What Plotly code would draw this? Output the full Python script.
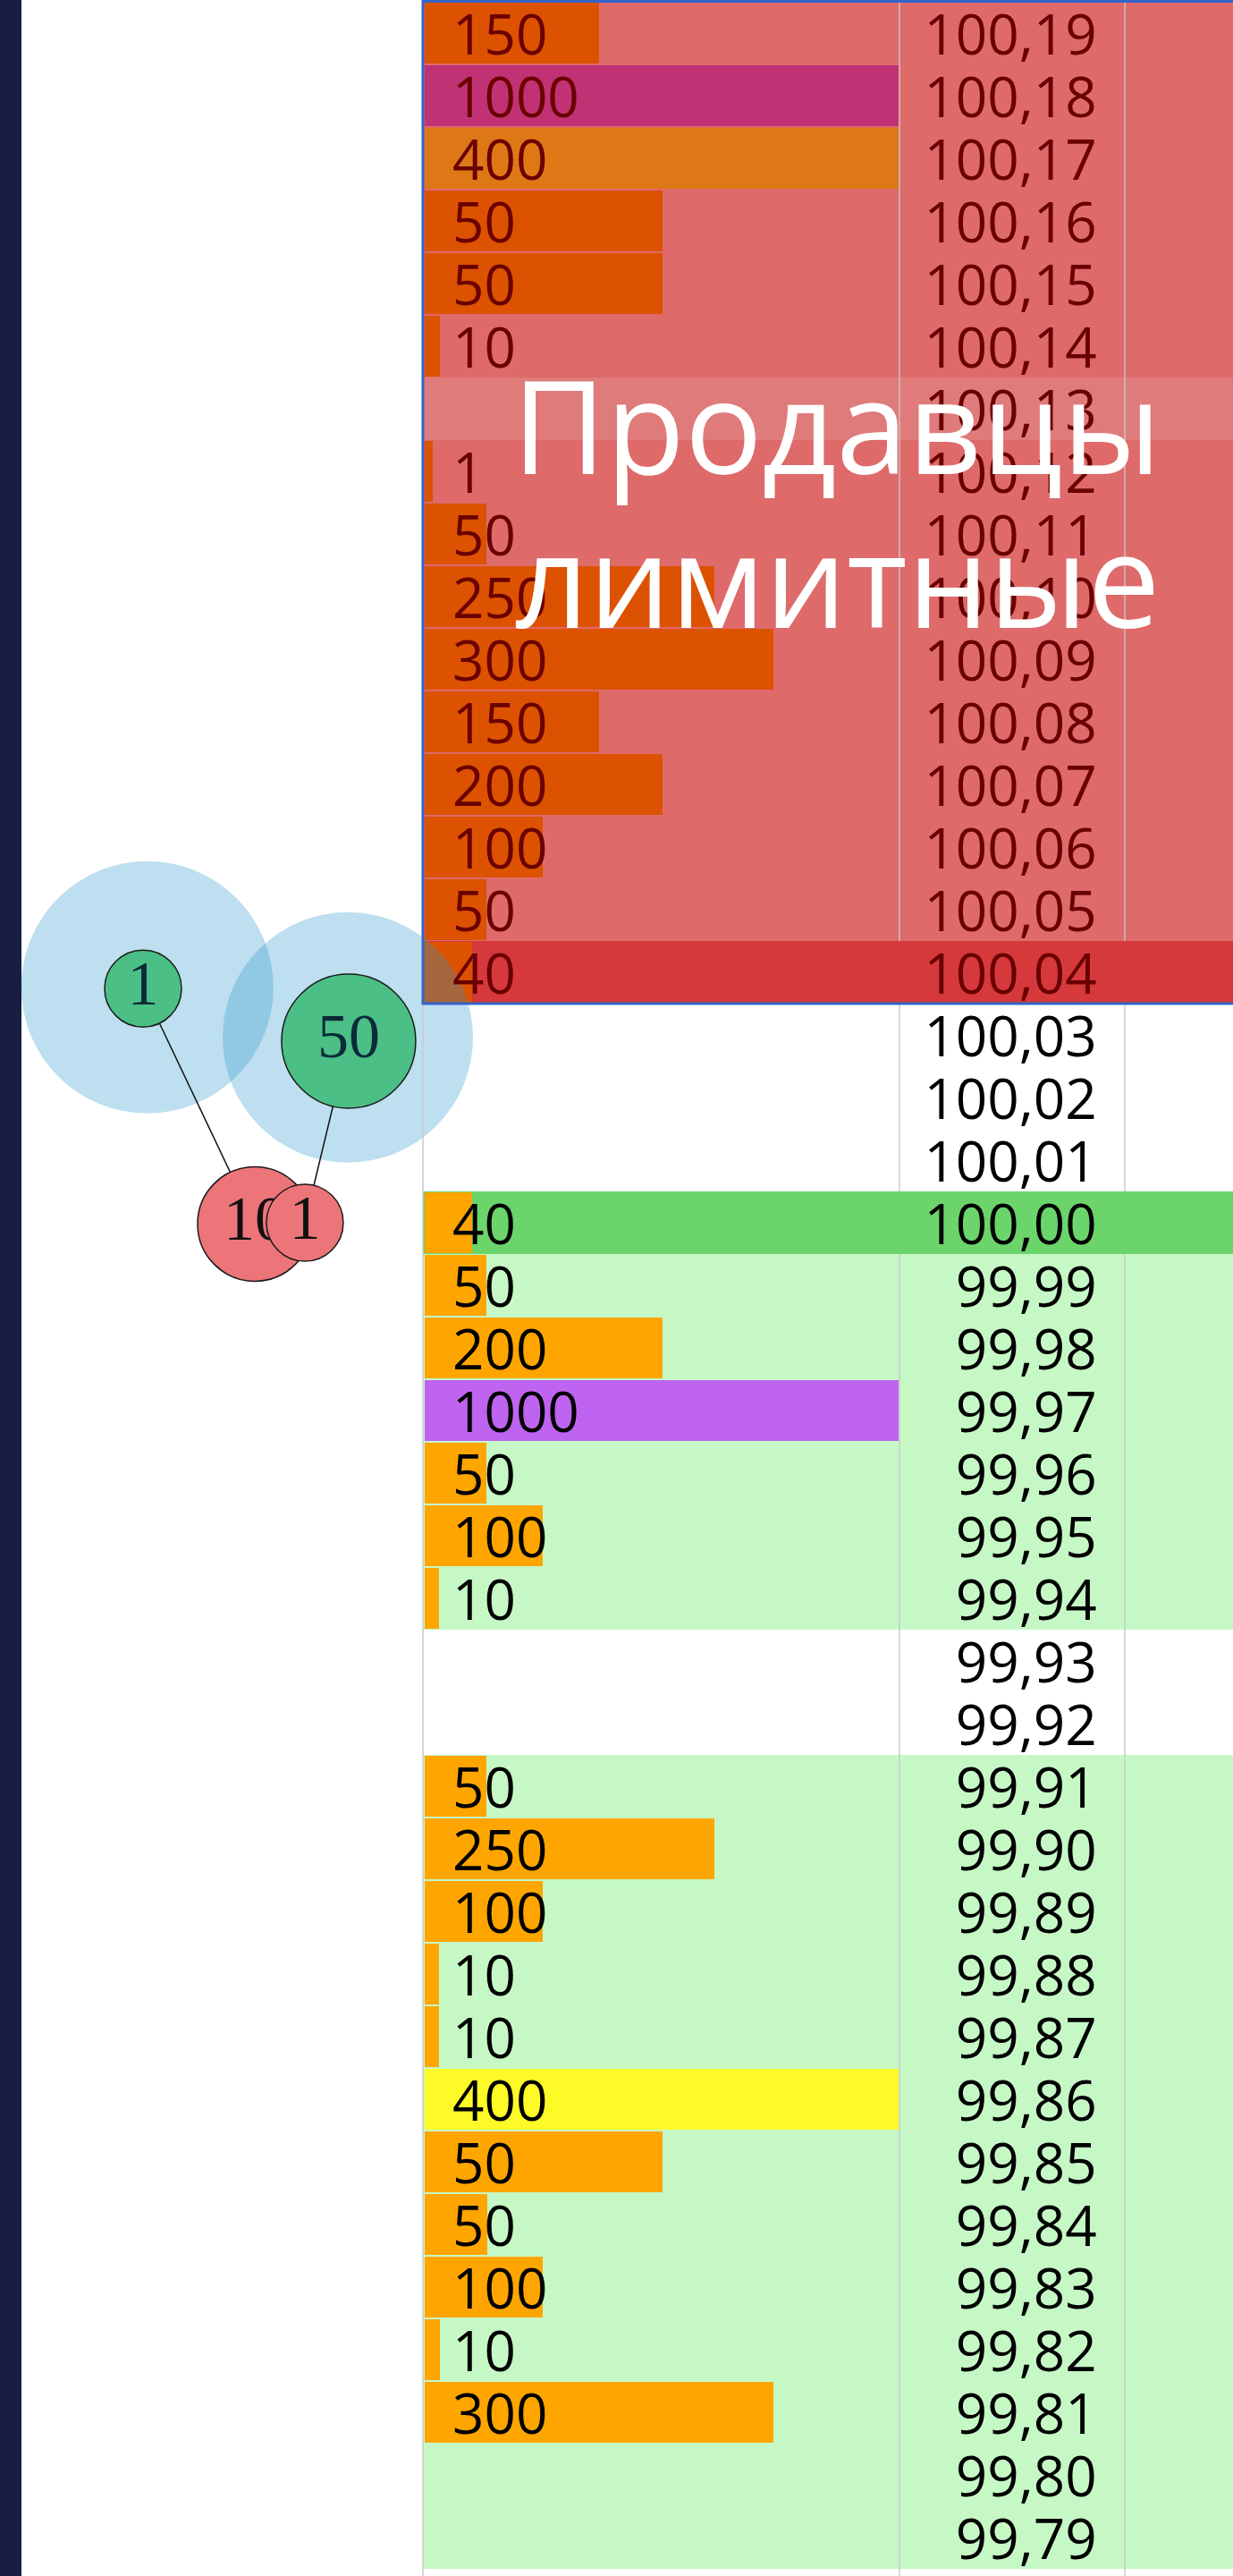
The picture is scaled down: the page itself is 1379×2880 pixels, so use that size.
import plotly.graph_objects as go

# ---------------- data ----------------
price_labels = ["100,19", "100,18", "100,17", "100,16", "100,15", "100,14", "100,13",
                "100,12", "100,11", "100,10", "100,09", "100,08", "100,07", "100,06",
                "100,05", "100,04", "100,03", "100,02", "100,01", "100,00", "99,99",
                "99,98", "99,97", "99,96", "99,95", "99,94", "99,93", "99,92", "99,91",
                "99,90", "99,89", "99,88", "99,87", "99,86", "99,85", "99,84", "99,83",
                "99,82", "99,81", "99,80", "99,79"]

# order volume per price level (None = no orders)
volumes = [150, 1000, 400, 50, 50, 10, None, 1, 50, 250, 300, 150, 200, 100, 50, 40,
           None, None, None,
           40, 50, 200, 1000, 50, 100, 10, None, None, 50, 250, 100, 10, 10, 400, 50, 50,
           100, 10, 300, None, None]

# drawn bar length as it appears in the picture (volume-like units, capped at column width)
bar_len = [151, 410, 410, 206, 206, 13, None, 7, 53, 251, 302, 151, 206, 102, 53, 41,
           None, None, None,
           41, 53, 206, 410, 53, 102, 12, None, None, 53, 251, 102, 12, 12, 410, 206, 54,
           102, 13, 302, None, None]

side = ["ask"] * 16 + ["spread"] * 3 + ["bid"] * 22

best_ask = "100,04"
best_bid = "100,00"
gap_rows = ["99,93", "99,92"]

# bubbles (trades) on the left
bubble_labels = ["1", "50", "10", "1"]
bubble_price = [100.0374, 100.0290, 99.9998, 100.0000]
bubble_side = ["buy", "buy", "sell", "sell"]

title_lines = ["Продавцы", "лимитные"]

# ---------------- helpers ----------------
prices = [float(p.replace(",", ".")) for p in price_labels]

PX = 530 / 410.0          # pixels per unit
X_LEFT = -475 / PX
X_RIGHT = (1379 - 475) / PX
TABLE_L = -2 / PX
SEP1 = (1006 - 475) / PX
SEP2 = (1258 - 475) / PX
Y_BOTTOM = 100.19 - (2880 - 37) / 7000.0
Y_TOP = 100.19 + 37 / 7000.0
TXT_DY = 8 / 7000.0       # baseline correction for row labels

def bg_color(lbl, s, v):
    if lbl == best_ask:
        return "#d6393b"
    if lbl == best_bid:
        return "#6bd56b"
    if s == "ask":
        return "#e07b7b" if v is None else "#de6a6a"
    if s == "spread" or lbl in gap_rows:
        return "rgba(0,0,0,0)"
    return "#c6f8c6"

def bar_color(s, v):
    if s == "ask":
        return {1000: "#c03273", 400: "#de7816"}.get(v, "#dc5200")
    return {1000: "#be64f0", 400: "#fdfa28"}.get(v, "#ffa500")

fig = go.Figure()

# row backgrounds
fig.add_trace(go.Bar(
    y=prices, x=[X_RIGHT - TABLE_L + 20] * len(prices), base=TABLE_L,
    orientation="h", width=0.01,
    marker=dict(color=[bg_color(l, s, v) for l, s, v in zip(price_labels, side, volumes)],
                line=dict(width=0)),
    hoverinfo="skip", showlegend=False))

# volume bars
bi = [i for i, b in enumerate(bar_len) if b is not None]
fig.add_trace(go.Bar(
    y=[prices[i] for i in bi], x=[bar_len[i] for i in bi], base=0,
    orientation="h", width=0.0098,
    marker=dict(color=[bar_color(side[i], volumes[i]) for i in bi], line=dict(width=0)),
    hoverinfo="skip", showlegend=False))

# halos
halo_x = [-240.0, -66.5]
fig.add_trace(go.Scatter(
    x=halo_x, y=[bubble_price[0] + 0.0002, bubble_price[1] + 0.0006], mode="markers",
    marker=dict(size=[282, 280], color="rgba(45,152,204,0.44)", line=dict(width=0)),
    hoverinfo="skip", showlegend=False, cliponaxis=False))

bx = [-243.7, -65.8, -147.0, -103.7]
# connecting lines
fig.add_trace(go.Scatter(x=[bx[0], bx[2]], y=[bubble_price[0], bubble_price[2]], mode="lines",
                         line=dict(color="#111111", width=1.5), hoverinfo="skip", showlegend=False))
fig.add_trace(go.Scatter(x=[bx[1], bx[3]], y=[bubble_price[1], bubble_price[3]], mode="lines",
                         line=dict(color="#111111", width=1.5), hoverinfo="skip", showlegend=False))

bsize = [86, 150, 128, 86]
for i in range(4):
    col = "#4bbf85" if bubble_side[i] == "buy" else "#ec7579"
    tcol = "#0b2a3a" if bubble_side[i] == "buy" else "#111111"
    fig.add_trace(go.Scatter(
        x=[bx[i]], y=[bubble_price[i]], mode="markers+text", text=[bubble_labels[i]],
        textposition="middle center",
        textfont=dict(family="Liberation Serif", size=70, color=tcol),
        marker=dict(size=bsize[i], color=col, line=dict(color="#1a1a1a", width=1.5)),
        hoverinfo="skip", showlegend=False, cliponaxis=False))

# volume labels
vi = [i for i, v in enumerate(volumes) if v is not None]
fig.add_trace(go.Scatter(
    x=[24] * len(vi), y=[prices[i] - TXT_DY for i in vi], mode="text",
    text=[str(volumes[i]) for i in vi], textposition="middle right",
    textfont=dict(family="Open Sans", size=62,
                  color=["#6a0000" if side[i] == "ask" else "#000000" for i in vi]),
    hoverinfo="skip", showlegend=False, cliponaxis=False))

# price labels
fig.add_trace(go.Scatter(
    x=[581.5] * len(prices), y=[p - TXT_DY for p in prices], mode="text",
    text=price_labels, textposition="middle left",
    textfont=dict(family="Open Sans", size=62,
                  color=["#6a0000" if s == "ask" else "#000000" for s in side]),
    hoverinfo="skip", showlegend=False, cliponaxis=False))

# ---------------- shapes ----------------
shapes = []
shapes.append(dict(type="rect", xref="paper", yref="paper", x0=0, x1=24 / 1379, y0=0, y1=1,
                   fillcolor="#171e42", line=dict(width=0), layer="above"))
shapes.append(dict(type="line", xref="x", yref="paper", x0=TABLE_L, x1=TABLE_L, y0=0, y1=1,
                   line=dict(color="#c8c8c8", width=1.5), layer="above"))
hl = sorted([float(best_ask.replace(",", ".")), float(best_bid.replace(",", "."))], reverse=True)
segs = [(Y_TOP, hl[0] + 0.005), (hl[0] - 0.005, hl[1] + 0.005), (hl[1] - 0.005, Y_BOTTOM)]
for xs in (SEP1, SEP2):
    for a, b in segs:
        shapes.append(dict(type="line", xref="x", yref="y", x0=xs, x1=xs, y0=b, y1=a,
                           line=dict(color="rgba(200,200,200,0.7)", width=2), layer="above"))
shapes.append(dict(type="rect", xref="x", yref="y", x0=TABLE_L, x1=X_RIGHT + 20,
                   y0=hl[0] - 0.005, y1=Y_TOP - 0.0002,
                   line=dict(color="#3264c8", width=3), fillcolor="rgba(0,0,0,0)", layer="above"))

annotations = []
for k, (txt, yp) in enumerate(zip(title_lines, [474, 646])):
    annotations.append(dict(text=txt, xref="paper", yref="paper", x=936 / 1379, y=1 - yp / 2880,
                            xanchor="center", yanchor="middle", showarrow=False,
                            font=dict(family="Open Sans", size=144, color="white")))

fig.update_layout(
    width=1379, height=2880, margin=dict(l=0, r=0, t=0, b=0),
    paper_bgcolor="white", plot_bgcolor="white", barmode="overlay", bargap=0,
    xaxis=dict(range=[X_LEFT, X_RIGHT], visible=False, fixedrange=True),
    yaxis=dict(range=[Y_BOTTOM, Y_TOP], visible=False, fixedrange=True),
    shapes=shapes, annotations=annotations, showlegend=False,
)

fig.write_html("out.html", config={"displayModeBar": False},
               post_script="document.body.style.margin='0px';document.body.style.overflow='hidden';")
